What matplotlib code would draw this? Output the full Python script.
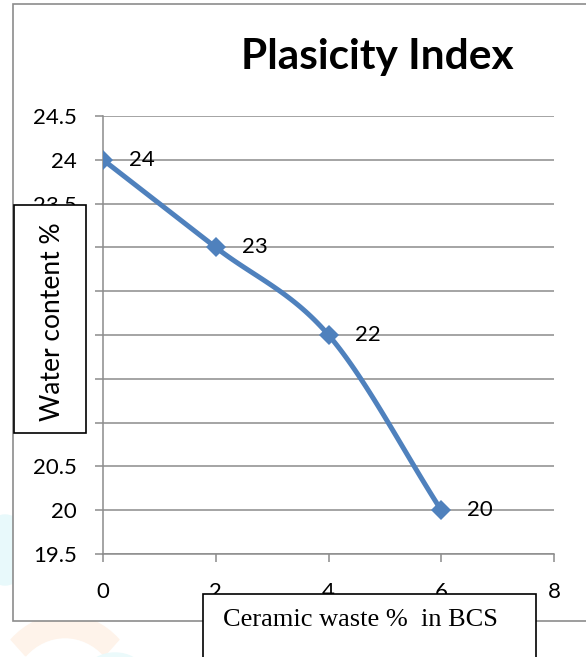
import numpy as np
import matplotlib.pyplot as plt
from matplotlib.patches import Rectangle, Ellipse, Wedge

# Datos: % de residuo cerámico vs. índice de plasticidad
residuo = [0, 2, 4, 6]
indice = [24, 23, 22, 20]
yticks = [19.5, 20, 20.5, 21, 21.5, 22, 22.5, 23, 23.5, 24, 24.5]
xticks = [0, 2, 4, 6, 8]

W, H = 586, 657
azul = '#4F81BD'
gris = '#8C8C8C'


def suavizar(x, y, n=40, t=0.5):
    # curva suavizada tipo Catmull-Rom entre los puntos
    x = np.asarray(x, float)
    y = np.asarray(y, float)
    px = np.concatenate([[2 * x[0] - x[1]], x, [2 * x[-1] - x[-2]]])
    py = np.concatenate([[2 * y[0] - y[1]], y, [2 * y[-1] - y[-2]]])
    xs, ys = [], []
    for i in range(1, len(px) - 2):
        s = np.linspace(0, 1, n)
        p0, p1, p2, p3 = [np.array([px[j], py[j]]) for j in range(i - 1, i + 3)]
        c1 = p1 + (p2 - p0) * t / 3
        c2 = p2 - (p3 - p1) * t / 3
        b = ((1 - s) ** 3)[:, None] * p1 + (3 * (1 - s) ** 2 * s)[:, None] * c1 \
            + (3 * (1 - s) * s ** 2)[:, None] * c2 + (s ** 3)[:, None] * p2
        xs.extend(b[:, 0])
        ys.extend(b[:, 1])
    return np.array(xs), np.array(ys)


fig = plt.figure(figsize=(W / 100, H / 100), dpi=100)

# marca de agua tenue abajo a la izquierda
fig.add_artist(Ellipse((5 / W, 1 - 550 / H), 50 / W, 70 / H, color='#e8f9fb', zorder=-3))
fig.add_artist(Wedge((65 / W, 1 - 700 / H), 0.13, 45, 135, width=0.035,
                     color='#fef3ea', zorder=-3))
fig.add_artist(Ellipse((115 / W, 1 - 668 / H), 50 / W, 30 / H, color='#ebfafb', zorder=-3))

# marco del gráfico
fig.add_artist(Rectangle((13 / W, 1 - 621 / H), 1.0, (621 - 4) / H,
                         facecolor='white', edgecolor=gris, lw=1.2, zorder=-1))

ax = fig.add_axes([103 / W, 1 - 554 / H, (554 - 103) / W, (554 - 116) / H])
ax.set_facecolor('none')

xs, ys = suavizar(residuo, indice)
ax.plot(xs, ys, color=azul, lw=3.6, zorder=3, solid_capstyle='round')
ax.plot(residuo, indice, ls='none', marker='D', ms=10, color=azul, mew=0, zorder=4)
for x, y in zip(residuo, indice):
    ax.annotate(f'{y}', (x, y), xytext=(26, 0), textcoords='offset pixels',
                ha='left', va='center', fontsize=16, family='Lato', zorder=5)

ax.set_xlim(0, 8)
ax.set_ylim(19.5, 24.5)
ax.set_xticks(xticks)
ax.set_yticks(yticks)
# las etiquetas tapadas por el recuadro del eje y no se escriben
ocultas = [21, 21.5, 22, 22.5, 23]
ax.set_yticklabels(['' if v in ocultas else f'{v:g}' for v in yticks])
ax.grid(axis='y', color=gris, lw=1.1)
ax.set_axisbelow(True)
for lado in ['top', 'right']:
    ax.spines[lado].set_visible(False)
for lado in ['left', 'bottom']:
    ax.spines[lado].set_color(gris)
    ax.spines[lado].set_linewidth(1.1)
ax.tick_params(axis='both', colors=gris, length=6, width=1.1, labelcolor='black',
               labelsize=16)
ax.tick_params(axis='x', pad=14)
ax.tick_params(axis='y', pad=13)
for lab in ax.get_xticklabels() + ax.get_yticklabels():
    lab.set_family('Lato')

fig.text(377 / W, 1 - 69 / H, 'Plasicity Index', ha='center', va='baseline',
         fontsize=30.5, fontweight='bold', family='Lato')

# recuadros de los títulos de ejes
fig.add_artist(Rectangle((14 / W, 1 - 433 / H), 72 / W, 228 / H,
                         facecolor='white', edgecolor='black', lw=1.2, zorder=5))
fig.text(53 / W, 1 - 322 / H, 'Water content %', rotation=90, ha='center',
         va='center', fontsize=19, family='Lato', zorder=6)

fig.add_artist(Rectangle((203 / W, 1 - 680 / H), 333 / W, 86 / H,
                         facecolor='white', edgecolor='black', lw=1.2, zorder=5))
fig.text(223 / W, 1 - 620 / H, 'Ceramic waste %  in BCS', ha='left',
         va='center', fontsize=19, family='Liberation Serif', zorder=6)

fig.savefig('out.png', dpi=100)
